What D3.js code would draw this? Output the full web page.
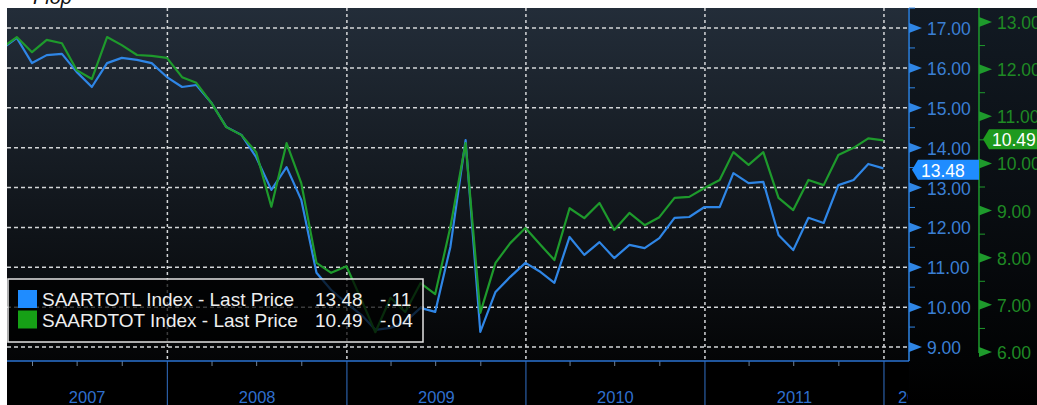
<!DOCTYPE html>
<html>
<head>
<meta charset="utf-8">
<script src="https://cdn.jsdelivr.net/npm/d3@7"></script>
<style>
  body { margin: 0; background: #fff; overflow: hidden; }
  svg { display: block; font-family: 'Liberation Sans', Arial, sans-serif; }
</style>
</head>
<body>
<div id="chart"></div>
<script>
// Monthly observations, Jan 2007 - Dec 2011 (plotted at month end)
const months = d3.timeMonth.range(new Date(2007, 0, 1), new Date(2012, 0, 1));

// SAARTOTL Index (total light vehicle sales, SAAR, mn) - left/blue axis
const saarTotal = [
  16.50, 16.75, 16.12, 16.32, 16.35, 15.90, 15.52, 16.12, 16.25, 16.20, 16.12, 15.77,
  15.52, 15.57, 15.12, 14.52, 14.32, 13.76, 12.94, 13.51, 12.69, 10.86, 10.43, 10.10,
  9.80, 9.43, 9.48, 9.63, 9.98, 9.88, 11.51, 14.19, 9.38, 10.38, 10.76, 11.11,
  10.88, 10.61, 11.76, 11.31, 11.63, 11.23, 11.56, 11.48, 11.73, 12.24, 12.26, 12.51,
  12.51, 13.36, 13.11, 13.14, 11.81, 11.43, 12.24, 12.11, 13.06, 13.19, 13.59, 13.48
];

// SAARDTOT Index (domestic vehicle sales, SAAR, mn) - right/green axis
const saarDomestic = [
  12.47, 12.68, 12.36, 12.62, 12.55, 11.98, 11.79, 12.68, 12.51, 12.30, 12.28, 12.24,
  11.83, 11.71, 11.28, 10.77, 10.60, 10.24, 9.08, 10.43, 9.58, 7.89, 7.68, 7.82,
  7.10, 6.42, 7.15, 6.85, 7.46, 7.23, 8.65, 10.43, 6.83, 7.89, 8.31, 8.63,
  8.27, 7.95, 9.05, 8.84, 9.16, 8.59, 8.95, 8.69, 8.86, 9.27, 9.29, 9.48,
  9.65, 10.24, 9.97, 10.24, 9.27, 9.01, 9.65, 9.54, 10.18, 10.33, 10.53, 10.49
];

const seriesNames = ['SAARTOTL Index - Last Price', 'SAARDTOT Index - Last Price'];
const lastChanges = ['-.11', '-.04'];
const blueTicks = [9, 10, 11, 12, 13, 14, 15, 16, 17];
const greenTicks = [6, 7, 8, 9, 10, 11, 12, 13];
const years = [2007, 2008, 2009, 2010, 2011, 2012];

class DualAxisChart {

  constructor(_config) {
    this.config = {
      parentElement: _config.parentElement,
      containerWidth: 1037,
      containerHeight: 405,
      plot: {left: 7, top: 8, right: 908, bottom: 361},
      blueAxisX: 909,
      greenAxisX: 979,
      blueColor: '#2f86e6',
      greenColor: '#1e9a2c',
      blueText: '#3a7fd4',
      greenText: '#1f8a24'
    };
    this.initVis();
  }

  initVis() {
    let vis = this;
    const p = vis.config.plot;

    vis.svg = d3.select(vis.config.parentElement).append('svg')
        .attr('width', vis.config.containerWidth)
        .attr('height', vis.config.containerHeight);

    const defs = vis.svg.append('defs');

    const plotGrad = defs.append('linearGradient')
        .attr('id', 'plot-bg').attr('x1', 0).attr('y1', 0).attr('x2', 0).attr('y2', 1);
    plotGrad.append('stop').attr('offset', '0%').attr('stop-color', '#232d39');
    plotGrad.append('stop').attr('offset', '55%').attr('stop-color', '#12171d');
    plotGrad.append('stop').attr('offset', '100%').attr('stop-color', '#040506');

    const axisGrad = defs.append('linearGradient')
        .attr('id', 'axis-bg').attr('x1', 0).attr('y1', 0).attr('x2', 0).attr('y2', 1);
    axisGrad.append('stop').attr('offset', '0%').attr('stop-color', '#121a23');
    axisGrad.append('stop').attr('offset', '100%').attr('stop-color', '#000');

    defs.append('clipPath').attr('id', 'plot-clip')
      .append('rect')
        .attr('x', p.left).attr('y', p.top)
        .attr('width', p.right - p.left).attr('height', p.bottom - p.top);

    defs.append('clipPath').attr('id', 'xaxis-clip')
      .append('rect')
        .attr('x', p.left).attr('y', p.bottom)
        .attr('width', p.right - p.left).attr('height', vis.config.containerHeight - p.bottom);

    // Scales
    vis.xScale = d3.scaleTime()
        .domain([new Date(2007, 1, 8), new Date(2012, 1, 19)])
        .range([p.left, p.right]);

    vis.yBlue = d3.scaleLinear().domain([9, 17]).range([347, 28]);
    vis.yGreen = d3.scaleLinear().domain([6, 13]).range([352, 22]);

    // Title (mostly cut off at the top of the picture)
    vis.svg.append('text')
        .attr('x', 33).attr('y', 4)
        .attr('font-size', 20)
        .attr('font-style', 'italic')
        .attr('fill', '#111')
        .text('Flop');

    // Backgrounds
    vis.svg.append('rect')
        .attr('x', p.left).attr('y', p.top)
        .attr('width', vis.config.containerWidth - p.left)
        .attr('height', vis.config.containerHeight - p.top)
        .attr('fill', '#000');

    vis.svg.append('rect')
        .attr('x', p.left).attr('y', p.top)
        .attr('width', p.right - p.left).attr('height', p.bottom - p.top)
        .attr('fill', 'url(#plot-bg)');

    vis.svg.append('rect')
        .attr('x', vis.config.blueAxisX).attr('y', p.top)
        .attr('width', vis.config.containerWidth - vis.config.blueAxisX)
        .attr('height', vis.config.containerHeight - p.top)
        .attr('fill', 'url(#axis-bg)');

    vis.chart = vis.svg.append('g');

    vis.renderVis();
  }

  renderVis() {
    let vis = this;
    const p = vis.config.plot;
    const monthEnd = m => d3.timeDay.offset(d3.timeMonth.offset(m, 1), -1);

    const blueData = months.map((m, i) => ({date: monthEnd(m), value: saarTotal[i]}));
    const greenData = months.map((m, i) => ({date: monthEnd(m), value: saarDomestic[i]}));

    // Grid
    const grid = vis.chart.append('g').attr('class', 'grid');
    grid.selectAll('.hgrid')
        .data(blueTicks)
      .join('line')
        .attr('class', 'hgrid')
        .attr('x1', p.left).attr('x2', p.right)
        .attr('y1', d => vis.yBlue(d)).attr('y2', d => vis.yBlue(d))
        .attr('stroke', '#d4d6d8')
        .attr('stroke-width', 1.5)
        .attr('stroke-dasharray', '4,3');

    const yearStarts = years.map(y => new Date(y, 0, 1));
    grid.selectAll('.vgrid')
        .data(yearStarts.filter(d => vis.xScale(d) > p.left && vis.xScale(d) < p.right))
      .join('line')
        .attr('class', 'vgrid')
        .attr('x1', d => vis.xScale(d)).attr('x2', d => vis.xScale(d))
        .attr('y1', p.top).attr('y2', p.bottom)
        .attr('stroke', '#d4d6d8')
        .attr('stroke-width', 1.5)
        .attr('stroke-dasharray', '3,3');

    // Lines
    const lines = vis.chart.append('g').attr('clip-path', 'url(#plot-clip)');

    const blueLine = d3.line().x(d => vis.xScale(d.date)).y(d => vis.yBlue(d.value));
    const greenLine = d3.line().x(d => vis.xScale(d.date)).y(d => vis.yGreen(d.value));

    lines.append('path')
        .datum(blueData)
        .attr('d', blueLine)
        .attr('fill', 'none')
        .attr('stroke', vis.config.blueColor)
        .attr('stroke-width', 2.2)
        .attr('stroke-linejoin', 'round');

    lines.append('path')
        .datum(greenData)
        .attr('d', greenLine)
        .attr('fill', 'none')
        .attr('stroke', vis.config.greenColor)
        .attr('stroke-width', 2.2)
        .attr('stroke-linejoin', 'round');

    // Bottom (time) axis
    const xAxis = vis.chart.append('g').attr('clip-path', 'url(#xaxis-clip)');
    const H = vis.config.containerHeight;

    xAxis.selectAll('.quarter-tick')
        .data(d3.timeMonth.every(3).range(...vis.xScale.domain()).filter(d => d.getMonth() !== 0))
      .join('line')
        .attr('class', 'quarter-tick')
        .attr('x1', d => vis.xScale(d)).attr('x2', d => vis.xScale(d))
        .attr('y1', p.bottom).attr('y2', p.bottom + 5)
        .attr('stroke', '#6f8196')
        .attr('stroke-width', 1);

    xAxis.selectAll('.year-sep')
        .data(yearStarts.filter(d => vis.xScale(d) > p.left && vis.xScale(d) < p.right))
      .join('line')
        .attr('class', 'year-sep')
        .attr('x1', d => vis.xScale(d)).attr('x2', d => vis.xScale(d))
        .attr('y1', p.bottom).attr('y2', H)
        .attr('stroke', '#2a5ea6')
        .attr('stroke-width', 1.2);

    xAxis.selectAll('.year-label')
        .data(years)
      .join('text')
        .attr('class', 'year-label')
        .each(function(y) {
          const x0 = Math.max(vis.xScale(new Date(y, 0, 1)), p.left);
          const x1 = Math.min(vis.xScale(new Date(y + 1, 0, 1)), p.right);
          const t = d3.select(this);
          if (x1 - x0 < 60) {
            t.attr('x', x0 + 14).attr('text-anchor', 'start');
          } else {
            t.attr('x', (x0 + x1) / 2).attr('text-anchor', 'middle');
          }
        })
        .attr('y', 403)
        .attr('font-size', 16.5)
        .attr('fill', '#2f6fce')
        .text(d => d);

    vis.chart.append('line')
        .attr('x1', p.left).attr('x2', vis.config.blueAxisX)
        .attr('y1', p.bottom).attr('y2', p.bottom)
        .attr('stroke', '#2a72d0')
        .attr('stroke-width', 1.5);

    // Right axes
    vis.drawAxis(vis.config.blueAxisX, vis.yBlue, blueTicks, p.top, p.bottom,
        vis.config.blueColor, vis.config.blueText);
    vis.drawAxis(vis.config.greenAxisX, vis.yGreen, greenTicks, p.top, vis.yGreen(6) + 1,
        vis.config.greenColor, vis.config.greenText);

    // Last value tags
    vis.drawTag(vis.config.blueAxisX + 3, vis.yBlue(saarTotal[saarTotal.length - 1]) + 1.5, 979,
        '#1f8cff', d3.format('.2f')(saarTotal[saarTotal.length - 1]));
    vis.drawTag(vis.config.greenAxisX + 4, vis.yGreen(saarDomestic[saarDomestic.length - 1]) - 1, 1040,
        '#1e9a1e', d3.format('.2f')(saarDomestic[saarDomestic.length - 1]));

    // Legend
    const legend = vis.chart.append('g').attr('class', 'legend');
    legend.append('rect')
        .attr('x', 8).attr('y', 279)
        .attr('width', 415).attr('height', 63)
        .attr('fill', 'rgba(0,0,0,0.72)')
        .attr('stroke', '#e4e4e4')
        .attr('stroke-width', 1.5);

    const rows = [
      {name: seriesNames[0], color: '#1f8cff', last: saarTotal[saarTotal.length - 1], chg: lastChanges[0]},
      {name: seriesNames[1], color: '#16a016', last: saarDomestic[saarDomestic.length - 1], chg: lastChanges[1]}
    ];

    const row = legend.selectAll('.legend-row')
        .data(rows)
      .join('g')
        .attr('class', 'legend-row')
        .attr('transform', (d, i) => `translate(0,${i * 20.5})`);

    row.append('rect')
        .attr('x', 18).attr('y', 290)
        .attr('width', 19).attr('height', 18)
        .attr('fill', d => d.color);

    const legendText = (sel, x, fn) => sel.append('text')
        .attr('x', x).attr('y', 306)
        .attr('font-size', 19)
        .attr('fill', '#eeeeee')
        .text(fn);

    legendText(row, 42, d => d.name);
    legendText(row, 315, d => d3.format('.2f')(d.last));
    legendText(row, 380, d => d.chg);
  }

  drawAxis(x, scale, ticks, top, bottom, lineColor, textColor) {
    let vis = this;
    const g = vis.chart.append('g');

    g.append('line')
        .attr('x1', x).attr('x2', x)
        .attr('y1', top).attr('y2', bottom)
        .attr('stroke', lineColor)
        .attr('stroke-width', 1.5);

    g.selectAll('.minor')
        .data(ticks.map(t => t + 0.5).filter(t => scale(t) > top))
      .join('line')
        .attr('class', 'minor')
        .attr('x1', x).attr('x2', x + 6)
        .attr('y1', d => scale(d)).attr('y2', d => scale(d))
        .attr('stroke', lineColor)
        .attr('stroke-width', 1);

    g.selectAll('.major')
        .data(ticks)
      .join('path')
        .attr('class', 'major')
        .attr('d', d => `M${x},${scale(d) - 5}L${x + 13},${scale(d)}L${x},${scale(d) + 5}Z`)
        .attr('fill', lineColor);

    g.selectAll('.label')
        .data(ticks)
      .join('text')
        .attr('class', 'label')
        .attr('x', x + 18)
        .attr('y', d => scale(d) + 7)
        .attr('font-size', 17.5)
        .attr('fill', textColor)
        .text(d => d3.format('.2f')(d));
  }

  drawTag(tipX, y, right, color, label) {
    let vis = this;
    const h = 20, bodyX = tipX + 6;
    vis.chart.append('path')
        .attr('d', `M${tipX},${y}L${bodyX},${y - h / 2}L${right},${y - h / 2}L${right},${y + h / 2}L${bodyX},${y + h / 2}Z`)
        .attr('fill', color);
    vis.chart.append('text')
        .attr('x', bodyX + 3)
        .attr('y', y + 7)
        .attr('font-size', 17.5)
        .attr('fill', '#fff')
        .text(label);
  }
}

new DualAxisChart({parentElement: '#chart'});
</script>
</body>
</html>
